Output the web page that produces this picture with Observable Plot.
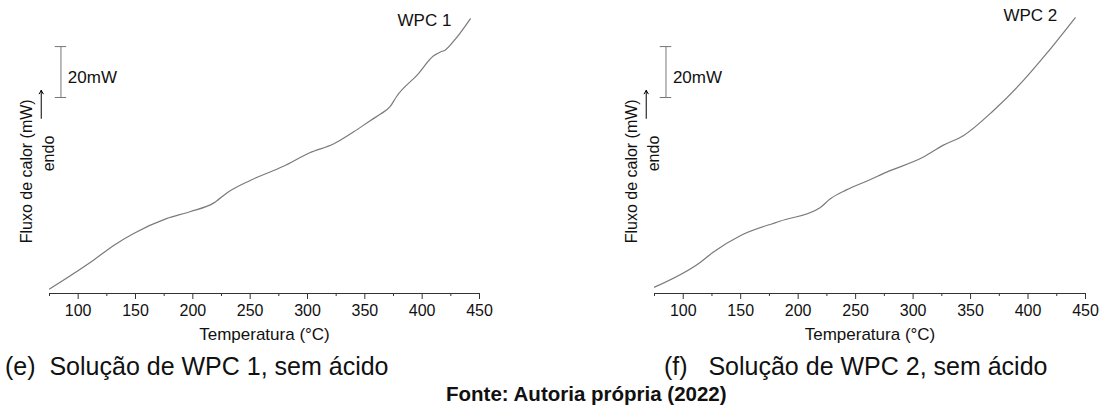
<!DOCTYPE html>
<html>
<head>
<meta charset="utf-8">
<script src="https://cdn.jsdelivr.net/npm/d3@7"></script>
<script src="https://cdn.jsdelivr.net/npm/@observablehq/plot@0.6"></script>
<style>
  html, body { margin: 0; padding: 0; background: #fff; }
  body { width: 1108px; height: 415px; position: relative; overflow: hidden; font-family: "Liberation Sans", Arial, sans-serif; color: #000; }
  #c1 { position: absolute; left: 0; top: 0; }
  #c2 { position: absolute; left: 605px; top: 0; }
  .cap { position: absolute; font-size: 25px; white-space: pre; line-height: 1; color: #111; }
  .fonte { position: absolute; font-size: 20.5px; font-weight: bold; white-space: pre; line-height: 1; color: #111; }
</style>
</head>
<body>
<div id="c1"></div>
<div id="c2"></div>
<div class="cap" style="left:5px; top:354px;">(e)  Solução de WPC 1, sem ácido</div>
<div class="cap" style="left:664px; top:354px;">(f)   Solução de WPC 2, sem ácido</div>
<div class="fonte" style="left:446px; top:384px;">Fonte: Autoria própria (2022)</div>
<script>
// Temperature (°C) and heat flow (mW, relative)
const temp1 = [75, 113, 131, 148, 177, 198, 218, 230, 250, 279, 302, 323, 340, 355, 364, 372, 378, 396, 410, 416, 420, 428, 442];
const flow1 = [1.8, 13.0, 18.9, 23.5, 29.4, 32.2, 35.5, 39.6, 44.4, 50.0, 55.3, 58.8, 63.4, 68.0, 70.6, 73.4, 77.6, 86.0, 93.4, 94.9, 95.6, 99.4, 107.9];
const temp2 = [75, 115, 126, 150, 184, 219, 228, 242, 261, 277, 309, 326, 344, 370, 396, 416, 441];
const flow2 = [2.5, 12.3, 16.2, 22.8, 28.4, 33.7, 37.2, 40.7, 44.4, 47.7, 53.6, 58.2, 62.1, 71.9, 83.7, 94.2, 108.3];
const majorTicks = [100, 150, 200, 250, 300, 350, 400, 450];
const minorTicks = [75, 125, 175, 225, 275, 325, 375, 425];
const xLabel = "Temperatura (°C)";
const yLabel = "Fluxo de calor (mW)";
const endoLabel = "endo";
const scaleBar = [77, 97];
const scaleLabel = "20mW";
const seriesNames = ["WPC 1", "WPC 2"];

function chart(temps, flows, name, width, marginRight, nameY) {
  const data = temps.map((t, i) => ({t, f: flows[i]}));
  const font = "'Liberation Sans', Arial, sans-serif";
  return Plot.plot({
    width, height: 348,
    marginLeft: 49, marginRight, marginTop: 13, marginBottom: 55,
    style: {fontFamily: font, fontSize: "16px", color: "#111", background: "#fff", overflow: "visible"},
    x: {domain: [75, 450]},
    y: {domain: [0, 110], axis: null},
    marks: [
      Plot.ruleY([0], {stroke: "#333", strokeWidth: 1}),
      Plot.axisX({ticks: minorTicks, tickSize: 3, tickFormat: () => "", stroke: "#333", label: null}),
      Plot.axisX({ticks: majorTicks, tickSize: 6, tickPadding: 5, stroke: "#333", fill: "#111", fontSize: 16, label: null}),
      Plot.text([xLabel], {frameAnchor: "bottom", dy: 46, fontSize: 17, fill: "#111"}),
      Plot.line(data, {x: "t", y: "f", stroke: "#7a7a7a", strokeWidth: 1.2, curve: "monotone-x"}),
      // 20 mW scale bar
      Plot.ruleX([85], {y1: scaleBar[0], y2: scaleBar[1], stroke: "#777", strokeWidth: 1}),
      Plot.ruleY(scaleBar, {x1: 80, x2: 90, stroke: "#777", strokeWidth: 1}),
      Plot.text([scaleLabel], {x: 91, y: 85, textAnchor: "start", fontSize: 17, fill: "#111"}),
      // endo arrow and labels
      Plot.arrow([0], {x1: 67.8, x2: 67.8, y1: 68.8, y2: 79.8, stroke: "#000", strokeWidth: 1, headLength: 6}),
      Plot.text([endoLabel], {x: 74.7, y: 55, rotate: -90, fontSize: 16, fill: "#111"}),
      Plot.text([yLabel], {x: 55.5, y: 48, rotate: -90, fontSize: 16, fill: "#111"}),
      Plot.text([name], {x: 402, y: nameY, fontSize: 17, fill: "#111"})
    ]
  });
}

document.getElementById("c1").append(chart(temp1, flow1, seriesNames[0], 605, 126, 107.3));
document.getElementById("c2").append(chart(temp2, flow2, seriesNames[1], 503, 23, 109.2));
</script>
</body>
</html>
